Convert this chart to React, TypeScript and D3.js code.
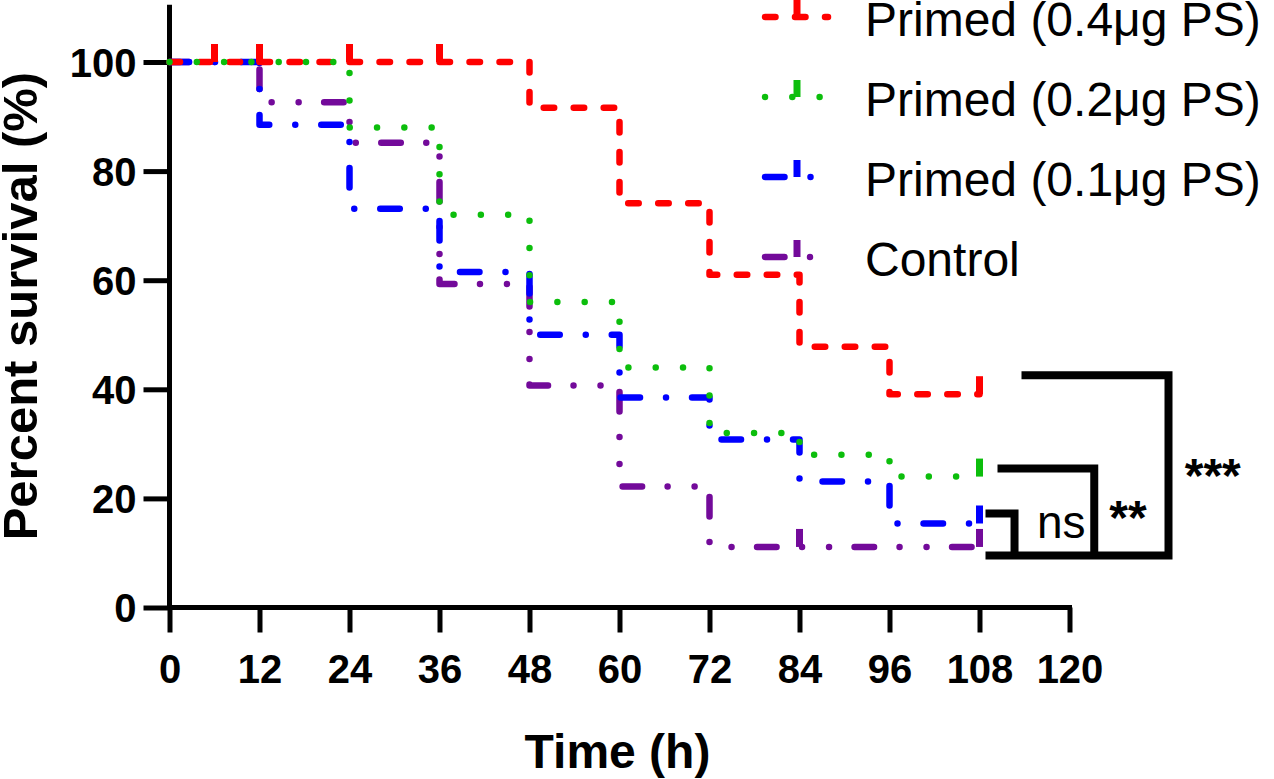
import React, { useRef, useEffect } from "react";
import * as d3 from "d3";

// time points (h) where each step begins; curves end at 108 h
const times = [0, 12, 24, 36, 48, 60, 72, 84, 96];
const endTime = 108;

// percent survival after each time point
const primed04 = [100, 100, 100, 100, 91.6, 74.1, 61.0, 47.8, 39.1];
const primed02 = [100, 100, 88, 72, 56, 44, 32, 28, 24];
const primed01 = [100, 88.5, 73.1, 61.5, 50, 38.5, 30.8, 23.1, 15.4];
const control = [100, 92.6, 85.2, 59.3, 40.7, 22.2, 11.1, 11.1, 11.1];

// censored observations (h)
const censor04 = [6, 12, 24, 36, 108];
const censor02 = [108];
const censor01 = [108];
const censorCtrl = [84, 108];

const legendLabels = ["Primed (0.4\u03bcg PS)", "Primed (0.2\u03bcg PS)", "Primed (0.1\u03bcg PS)", "Control"];

const xTicks = [0, 12, 24, 36, 48, 60, 72, 84, 96, 108, 120];
const yTicks = [0, 20, 40, 60, 80, 100];

// significance brackets, in data units (h, %)
const bracketNs: [number, number][] = [[108.8, 17.25], [112.67, 17.25], [112.67, 9.54]];
const bracket2: [number, number][] = [[110.4, 25.5], [123.3, 25.5], [123.3, 9.54]];
const bracket3: [number, number][] = [[113.6, 42.57], [133.2, 42.57], [133.2, 9.54], [108.8, 9.54]];
const sigLabels = [
    { text: "ns", t: 118.9, v: 12.7, bold: false },
    { text: "**", t: 127.8, v: 13.5, bold: true },
    { text: "***", t: 139.1, v: 21.2, bold: true },
];

export default function App() {
    const ref = useRef<SVGSVGElement | null>(null);

    useEffect(() => {
        if (!ref.current) return;
        const svg = d3.select(ref.current);
        svg.selectAll("*").remove();

        const font = "'Liberation Sans', Arial, sans-serif";
        const x = d3.scaleLinear().domain([0, 120]).range([169.5, 1069.5]);
        const y = d3.scaleLinear().domain([0, 100]).range([607.5, 62]);

        // axes
        const yAxis = svg
            .append("g")
            .attr("transform", `translate(${x(0)},0)`)
            .call(d3.axisLeft(y).tickValues(yTicks).tickSize(26).tickSizeOuter(0).tickPadding(7));
        yAxis.select(".domain").remove();
        yAxis.selectAll(".tick line").attr("stroke", "#000").attr("stroke-width", 5);
        yAxis
            .selectAll(".tick text")
            .attr("font-family", font)
            .attr("font-size", 40)
            .attr("font-weight", "bold")
            .attr("fill", "#000")
            .attr("dy", "0.36em");
        yAxis
            .append("line")
            .attr("x1", 0)
            .attr("x2", 0)
            .attr("y1", y(110.5))
            .attr("y2", y(0) + 2.5)
            .attr("stroke", "#000")
            .attr("stroke-width", 5);

        const xAxis = svg
            .append("g")
            .attr("transform", `translate(0,${y(0)})`)
            .call(d3.axisBottom(x).tickValues(xTicks).tickSize(25).tickSizeOuter(0).tickPadding(22));
        xAxis.select(".domain").remove();
        xAxis.selectAll(".tick line").attr("stroke", "#000").attr("stroke-width", 5);
        xAxis
            .selectAll(".tick text")
            .attr("font-family", font)
            .attr("font-size", 40)
            .attr("font-weight", "bold")
            .attr("fill", "#000");
        xAxis
            .append("line")
            .attr("x1", x(0) - 2.5)
            .attr("x2", x(120) + 2.5)
            .attr("y1", 0)
            .attr("y2", 0)
            .attr("stroke", "#000")
            .attr("stroke-width", 5);

        // axis titles
        svg.append("text")
            .attr("transform", `translate(37,${(y(0) + y(110.5)) / 2}) rotate(-90)`)
            .attr("text-anchor", "middle")
            .attr("font-family", font)
            .attr("font-size", 49)
            .attr("font-weight", "bold")
            .text("Percent survival (%)");

        svg.append("text")
            .attr("x", (x(0) + x(120)) / 2 - 2)
            .attr("y", 768)
            .attr("text-anchor", "middle")
            .attr("font-family", font)
            .attr("font-size", 48)
            .attr("font-weight", "bold")
            .text("Time (h)");

        // survival curves (drawn bottom to top)
        const series = [
            { values: control, censored: censorCtrl, color: "#730A9A", dash: "19.5 25.5 0 27 0 25.5", legend: 3 },
            { values: primed01, censored: censor01, color: "#0000FF", dash: "19.5 26 0 26", legend: 2 },
            { values: primed04, censored: censor04, color: "#FF0000", dash: "10.5 19.5", legend: 0 },
            { values: primed02, censored: censor02, color: "#0CBE0C", dash: "0 27.3", legend: 1 },
        ];

        const line = d3
            .line<[number, number]>()
            .x((d) => x(d[0]))
            .y((d) => y(d[1]))
            .curve(d3.curveStepAfter);

        const valueAt = (vals: number[], t: number) => {
            const i = d3.bisectRight(times, t) - 1;
            return vals[Math.max(0, i)];
        };

        series.forEach((s) => {
            const pts: [number, number][] = times.map((t, i) => [t, s.values[i]]);
            pts.push([endTime, s.values[s.values.length - 1]]);
            svg.append("path")
                .attr("d", line(pts)!)
                .attr("fill", "none")
                .attr("stroke", s.color)
                .attr("stroke-width", 6.5)
                .attr("stroke-linecap", "round")
                .attr("stroke-linejoin", "round")
                .attr("stroke-dasharray", s.dash);

            svg.append("g")
                .selectAll("line")
                .data(s.censored)
                .enter()
                .append("line")
                .attr("x1", (t) => x(t))
                .attr("x2", (t) => x(t))
                .attr("y1", (t) => y(valueAt(s.values, t)))
                .attr("y2", (t) => y(valueAt(s.values, t)) - 18)
                .attr("stroke", s.color)
                .attr("stroke-width", 7);
        });

        // legend
        const legend = svg.append("g");
        series.forEach((s) => {
            const ly = 17 + s.legend * 80;
            legend.append("line")
                .attr("x1", 765)
                .attr("x2", 828)
                .attr("y1", ly)
                .attr("y2", ly)
                .attr("stroke", s.color)
                .attr("stroke-width", 6.5)
                .attr("stroke-linecap", "round")
                .attr("stroke-dasharray", s.dash);
            legend.append("line")
                .attr("x1", 797)
                .attr("x2", 797)
                .attr("y1", ly)
                .attr("y2", ly - 17)
                .attr("stroke", s.color)
                .attr("stroke-width", 7);
            legend.append("text")
                .attr("x", 865)
                .attr("y", ly + 19)
                .attr("font-family", font)
                .attr("font-size", 48)
                .attr("fill", "#000")
                .text(legendLabels[s.legend]);
        });

        // significance brackets
        const bracketLine = d3
            .line<[number, number]>()
            .x((d) => x(d[0]))
            .y((d) => y(d[1]));
        [bracketNs, bracket2, bracket3].forEach((b) => {
            svg.append("path")
                .attr("d", bracketLine(b)!)
                .attr("fill", "none")
                .attr("stroke", "#000")
                .attr("stroke-width", 8)
                .attr("stroke-linejoin", "miter");
        });
        sigLabels.forEach((l) => {
            svg.append("text")
                .attr("x", x(l.t))
                .attr("y", y(l.v))
                .attr("text-anchor", "middle")
                .attr("font-family", font)
                .attr("font-size", l.bold ? 48 : 46)
                .attr("font-weight", l.bold ? "bold" : "normal")
                .text(l.text);
        });
    }, []);

    return (
        <div style={{ position: "absolute", left: 0, top: 0 }}>
            <svg ref={ref} width={1274} height={779} />
        </div>
    );
}
